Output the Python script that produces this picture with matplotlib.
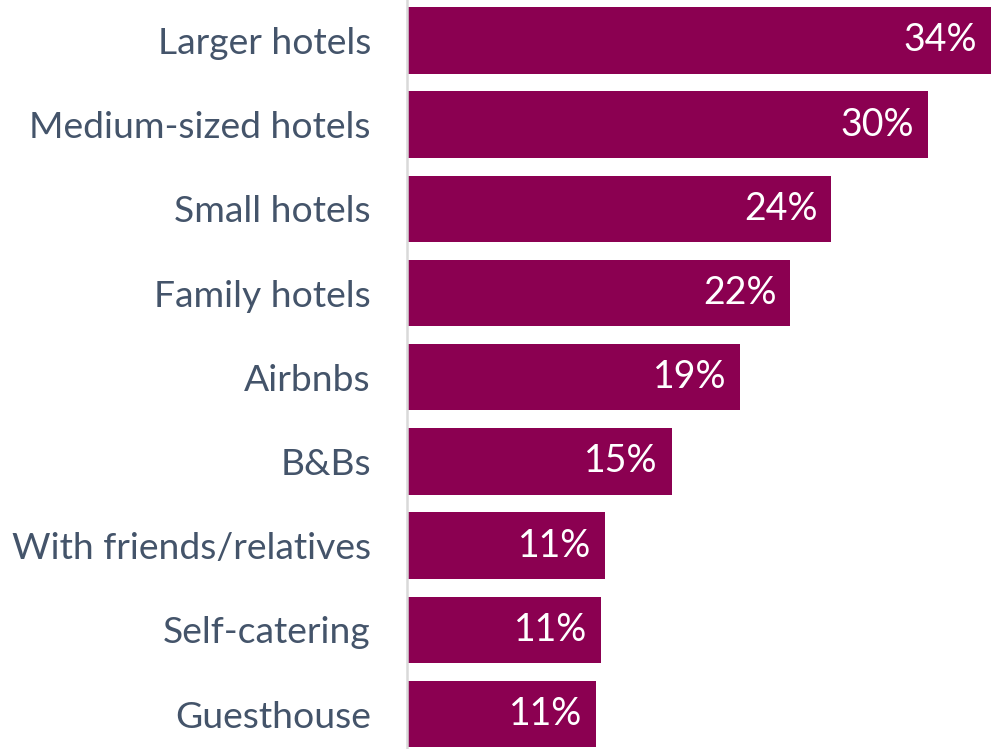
import matplotlib.pyplot as plt

categories = ["Larger hotels", "Medium-sized hotels", "Small hotels", "Family hotels",
              "Airbnbs", "B&Bs", "With friends/relatives", "Self-catering", "Guesthouse"]
values = [34.0, 30.3, 24.7, 22.3, 19.4, 15.4, 11.5, 11.3, 11.0]
pct_labels = ["34%", "30%", "24%", "22%", "19%", "15%", "11%", "11%", "11%"]

bar_color = "#8B0051"
text_color = "#44546A"

fig = plt.figure(figsize=(9.92, 7.49), dpi=100)
ax = fig.add_axes([407 / 992, 0, 1 - 407 / 992, 1])

y = range(len(categories))
bars = ax.barh(y, values, height=0.79, color=bar_color)

for b, lab in zip(bars, pct_labels):
    ax.text(b.get_width() - 0.8, b.get_y() + b.get_height() / 2, lab,
            ha="right", va="center", color="white", fontsize=27, family="Lato")

ax.set_xlim(0, 34.05)
ax.set_ylim(8.415, -0.48)
ax.set_yticks(list(y))
ax.set_yticklabels(categories, fontsize=26.8, color=text_color, family="Lato")
ax.tick_params(axis="y", length=0, pad=26)
ax.set_xticks([])
for s in ["top", "right", "bottom"]:
    ax.spines[s].set_visible(False)
ax.spines["left"].set_color("#D9D9D9")
ax.spines["left"].set_linewidth(1.8)

fig.savefig("out.png", dpi=100)
